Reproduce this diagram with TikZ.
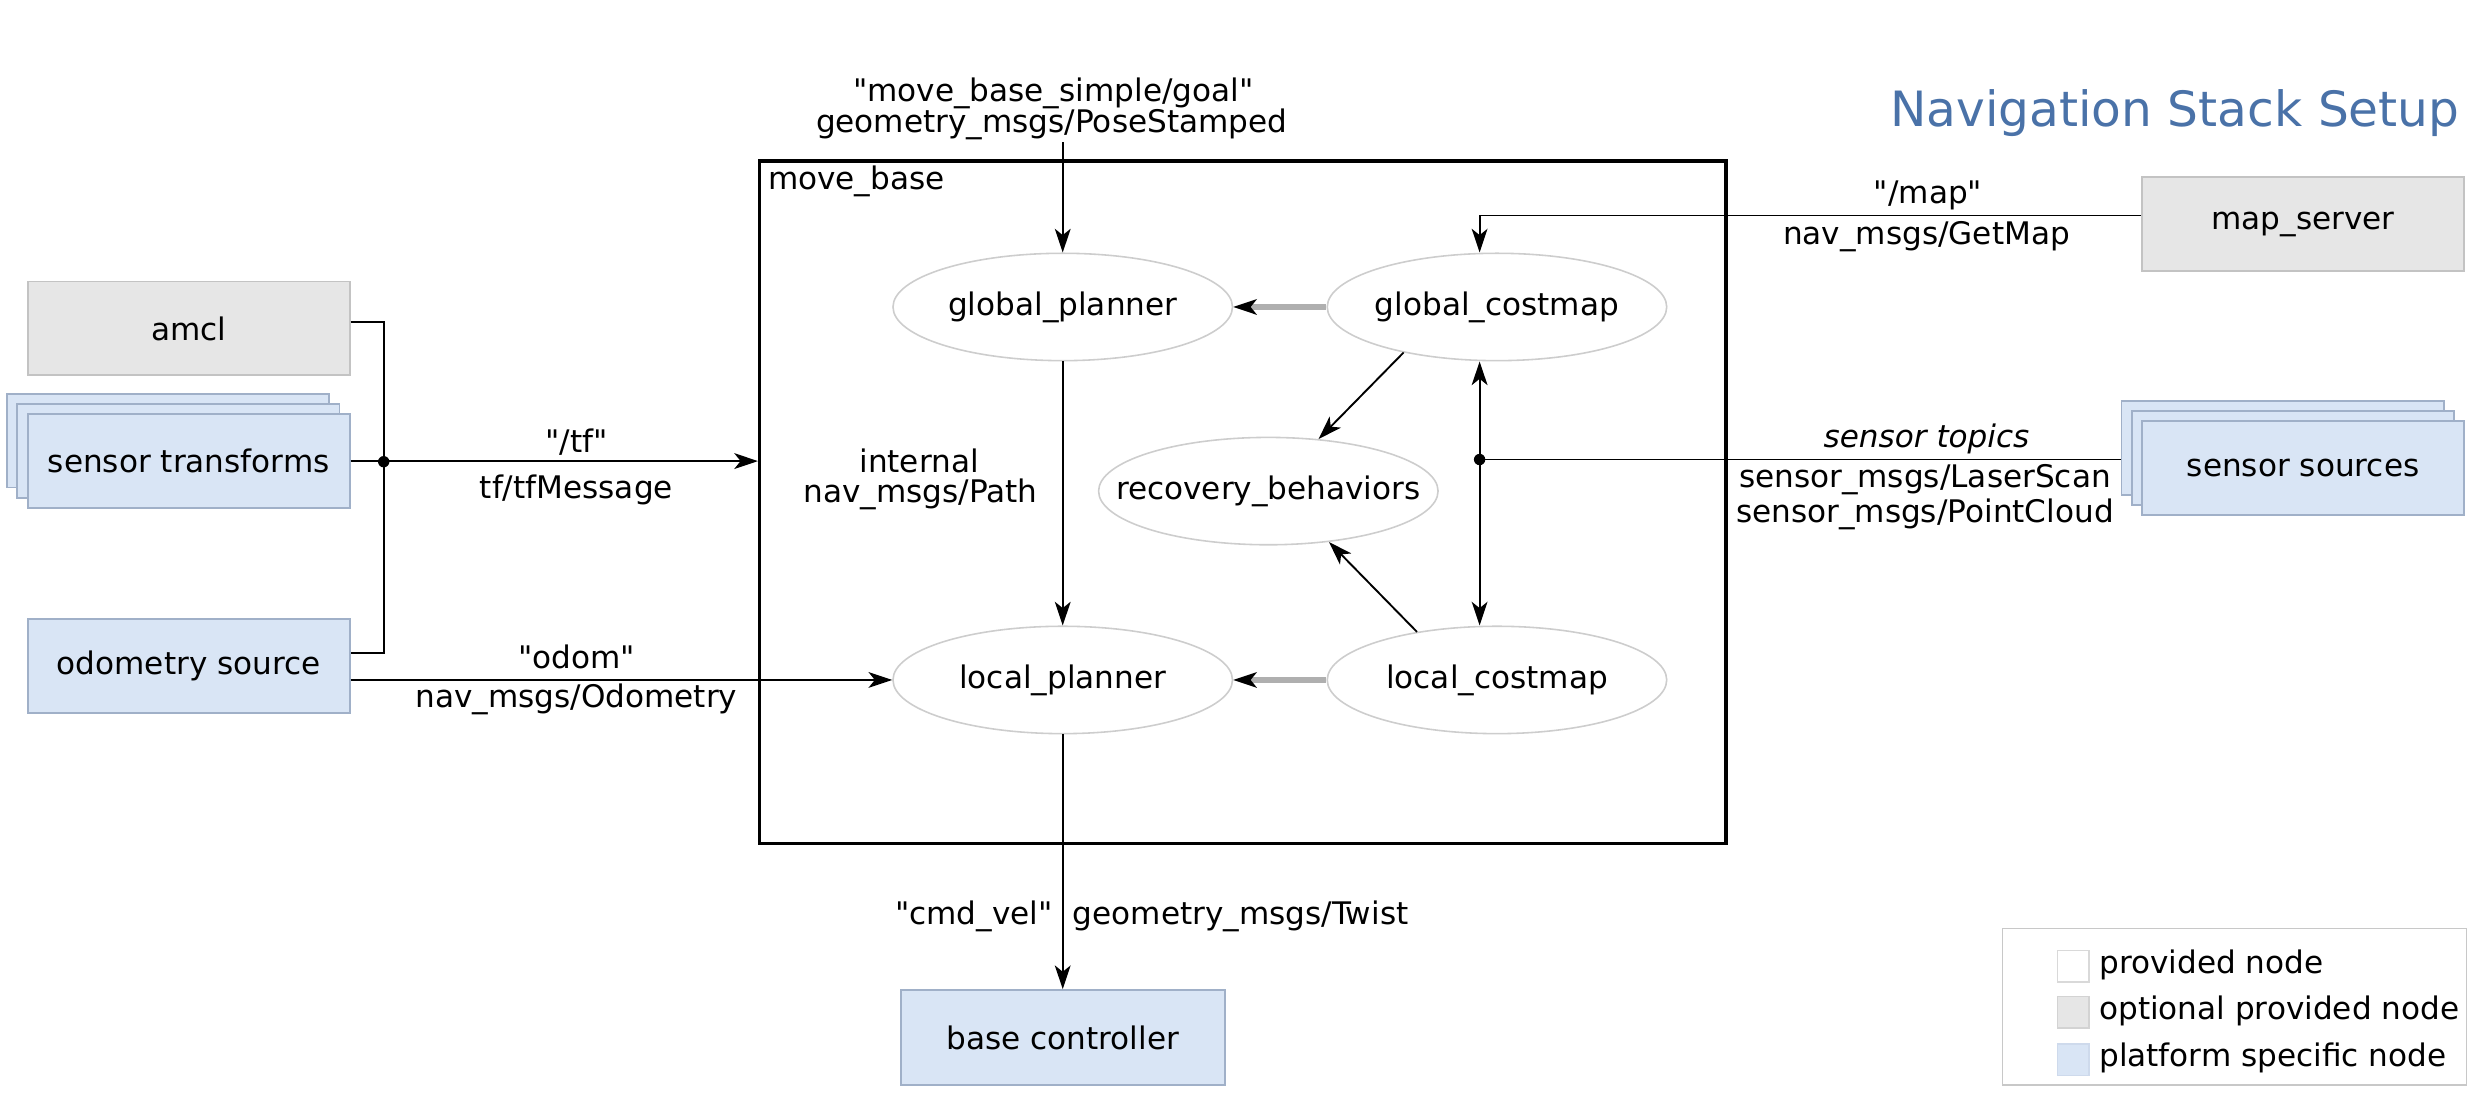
\documentclass[tikz,border=0pt]{standalone}
\usepackage{fontspec}
\setmainfont{DejaVu Sans}[Ligatures=TeXOff]
\usetikzlibrary{shapes.geometric,arrows.meta}
\definecolor{grayfill}{RGB}{230,230,230}
\definecolor{grayline}{RGB}{195,195,195}
\definecolor{bluefill}{RGB}{217,229,245}
\definecolor{blueline}{RGB}{160,176,200}
\definecolor{ellline}{RGB}{205,205,205}
\definecolor{titleblue}{RGB}{74,114,168}
\definecolor{thickgray}{RGB}{175,175,175}
\definecolor{legline}{RGB}{200,200,200}
\begin{document}
\begin{tikzpicture}[x=0.5pt,y=-0.5pt,
  every node/.style={font=\fontsize{9.85}{11.8}\selectfont, inner sep=0pt},
  optbox/.style={draw=grayline, fill=grayfill, line width=0.6pt, minimum width=102pt, minimum height=29.75pt},
  platbox/.style={draw=blueline, fill=bluefill, line width=0.6pt, minimum width=102pt, minimum height=29.75pt},
  ell/.style={ellipse, draw=ellline, line width=0.5pt, fill=white, minimum width=107.5pt, minimum height=34pt},
  conn/.style={line width=0.6pt, black},
  tip/.style={-{Stealth[length=7.5pt,width=5pt,inset=2pt,line width=0.6pt]}},
  dtip/.style={{Stealth[length=7.5pt,width=5pt,inset=2pt,line width=0.6pt]}-{Stealth[length=7.5pt,width=5pt,inset=2pt,line width=0.6pt]}},
  graytip/.style={line width=1.7pt, thickgray, -{Stealth[length=7.5pt,width=5pt,inset=2pt,line width=0.6pt,color=black]}},
  lbl/.style={anchor=center},
  swatch/.style={line width=0.5pt, minimum width=10pt, minimum height=10pt},
]
\useasboundingbox (0,0) rectangle (1568,695);

% title
\node[anchor=base east, text=titleblue, font=\fontsize{15.4}{18}\selectfont] (title) at (1558,80) {Navigation Stack Setup};

% move_base frame
\node[draw, line width=1pt, minimum width=306pt, minimum height=216pt] (mb) at (787,318) {};
\node[anchor=west] (mblbl) at (486,115) {move\_base};

% left side nodes
\node[optbox] (amcl) at (119.5,208) {amcl};
\node[platbox] (stb) at (106.5,279) {};
\node[platbox] (stm) at (113,285.5) {};
\node[platbox] (st) at (119.5,292) {sensor transforms};
\node[platbox] (odom) at (119.5,422) {odometry source};

% right side nodes
\node[optbox] (ms) at (1458.5,142) {map\_server};
\node[platbox] (ssb) at (1445.5,283.5) {};
\node[platbox] (ssm) at (1452,290) {};
\node[platbox] (ss) at (1458.5,296.5) {sensor sources};

% bottom
\node[platbox, minimum width=102.5pt, minimum height=30pt] (bc) at (673,657) {base controller};

% ellipses
\node[ell] (gp) at (673,194.4) {\makebox[0pt]{global\_planner}};
\node[ell] (gc) at (948,194.4) {\makebox[0pt]{global\_costmap}};
\node[ell] (rb) at (803.2,311) {\makebox[0pt]{recovery\_behaviors}};
\node[ell] (lp) at (673,430.6) {\makebox[0pt]{local\_planner}};
\node[ell] (lc) at (948,430.6) {\makebox[0pt]{local\_costmap}};

% coordinates
\coordinate (goaltop) at (673,90);
\coordinate (tfdot) at (243,292.4);
\coordinate (sdot) at (937,291);
\coordinate (mapc) at (937,136.5);

% goal
\node[lbl] (goal1) at (667,59) {"move\_base\_simple/goal"};
\node[lbl] (goal2) at (666,79) {geometry\_msgs/PoseStamped};
\draw[conn, tip] (goaltop) -- (gp.north);

% internal
\draw[conn, tip] (gp.south) -- (lp.north);
\node[lbl] (int1) at (582,292) {internal};
\node[lbl] (int2) at (583,313) {nav\_msgs/Path};

% costmaps to planners
\draw[graytip] (gc.west) -- (gp.east);
\draw[graytip] (lc.west) -- (lp.east);

% costmaps to recovery
\draw[conn, tip] (gc.206) -- (rb.46);
\draw[conn, tip] (lc.149) -- (rb.320);

% sensor topics
\draw[conn, dtip] (gc.south -| sdot) -- (lc.north -| sdot);
\draw[conn] (sdot) -- (sdot -| ssb.west);
\fill (sdot) circle[radius=1.8pt];
\node[lbl, font=\fontsize{9.85}{11.8}\selectfont\itshape] (stop) at (1220,278) {sensor topics};
\node[lbl] (ls) at (1219,304) {sensor\_msgs/LaserScan};
\node[lbl] (pc) at (1219,326) {sensor\_msgs/PointCloud};

% map
\draw[conn, tip] (mapc -| ms.west) -- (mapc) -- (gc.north -| mapc);
\node[lbl] (map1) at (1221,124) {"/map"};
\node[lbl] (map2) at (1220,150) {nav\_msgs/GetMap};

% tf
\draw[conn] ([yshift=1.9pt]amcl.east) -| (tfdot) |- ([yshift=4.15pt]odom.east);
\draw[conn, tip] (st.east) -- (st.east -| mb.west);
\fill (tfdot) circle[radius=1.8pt];
\node[lbl] (tf1) at (365,280) {"/tf"};
\node[lbl] (tf2) at (365,310) {tf/tfMessage};

% odom
\draw[conn, tip] (odom.east |- lp.west) -- (lp.west);
\node[lbl] (od1) at (365,416) {"odom"};
\node[lbl] (od2) at (365,443) {nav\_msgs/Odometry};

% cmd_vel
\draw[conn, tip] (lp.south) -- (bc.north);
\node[anchor=east] (cv1) at (667,580) {"cmd\_vel"};
\node[anchor=west] (cv2) at (679,580) {geometry\_msgs/Twist};

% legend
\node[draw=legline, line width=0.5pt, minimum width=147pt, minimum height=49.5pt] (leg) at (1415,637.5) {};
\node[swatch, draw=legline!70, fill=white] (sw1) at (1313,612) {};
\node[swatch, draw=legline!80, fill=grayfill] (sw2) at (1313,641) {};
\node[swatch, draw=bluefill!80!blueline, fill=bluefill] (sw3) at (1313,671) {};
\node[anchor=west] (lt1) at (1329,611) {provided node};
\node[anchor=west] (lt2) at (1329,640) {optional provided node};
\node[anchor=west] (lt3) at (1329,670) {platform specific node};
\end{tikzpicture}
\end{document}
